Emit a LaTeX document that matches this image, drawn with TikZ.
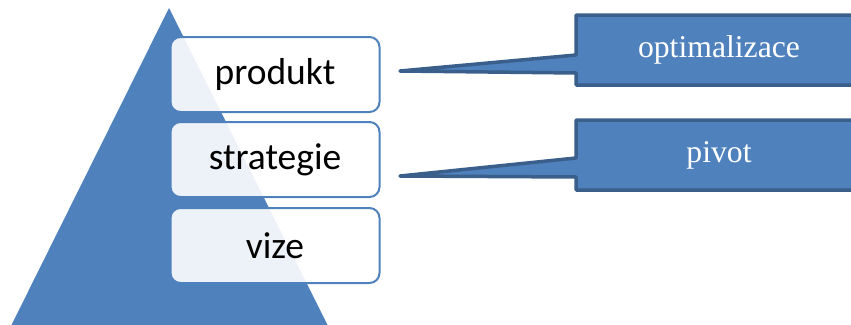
\documentclass[tikz,border=0pt]{standalone}
\usepackage{fontspec}
\setmainfont{Liberation Serif}
\newfontfamily\calfont{Carlito}
\definecolor{pyrblue}{HTML}{4F81BD}
\definecolor{calloutedge}{HTML}{3A5F8B}
\tikzset{
  levelbox/.style={draw=pyrblue, line width=2pt, fill=white, fill opacity=0.9, text opacity=1,
    rounded corners=10pt, minimum width=209pt, minimum height=75pt, inner sep=0pt,
    font=\calfont\fontsize{37.5}{42}\selectfont, text=black},
  callouttext/.style={inner sep=0pt, text=white, font=\fontsize{31.7}{36}\selectfont},
  calloutshape/.style={draw=calloutedge, fill=pyrblue, line width=3.5pt, line join=round}
}
\begin{document}
\begin{tikzpicture}[x=1pt,y=-1pt]
\useasboundingbox (0,0) rectangle (851,324);
\clip (0,0) rectangle (851,324);
% pyramid
\fill[pyrblue] (169,8) -- (8,332) -- (331,332) -- cycle;
% callouts
\coordinate (c1tl) at (576,15);
\coordinate (c1br) at (864,85);
\coordinate (tip1) at (400,71);
\draw[calloutshape] (c1tl) -- (c1tl -| c1br) -- (c1br) -- (c1br -| c1tl) -- (576,73) -- (tip1) -- (576,55) -- cycle;
\coordinate (c2tl) at (576,120);
\coordinate (c2br) at (864,190);
\coordinate (tip2) at (400,176);
\draw[calloutshape] (c2tl) -- (c2tl -| c2br) -- (c2br) -- (c2br -| c2tl) -- (576,177) -- (tip2) -- (576,158) -- cycle;
\node[callouttext] (opt) at (719,50) {optimalizace};
\node[callouttext] (piv) at (719,155) {pivot};
% level boxes
\node[levelbox] (produkt) at (275,74.5) {produkt};
\node[levelbox] (strategie) at (275,159.5) {strategie};
\node[levelbox] (vize) at (275,245.5) {vize};
\end{tikzpicture}
\end{document}
